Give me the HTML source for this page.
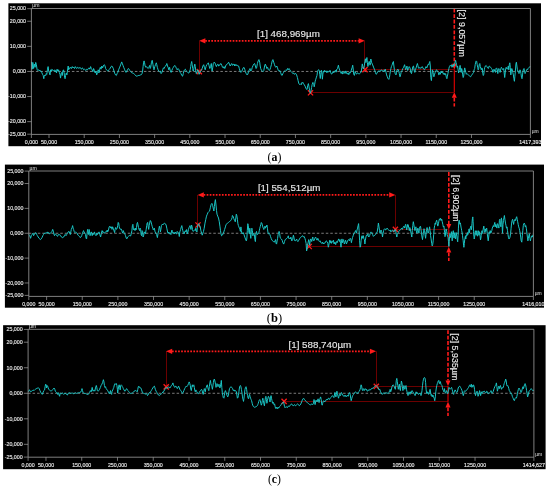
<!DOCTYPE html>
<html><head><meta charset="utf-8"><style>
html,body{margin:0;padding:0;background:#fff;}
svg{display:block;}
.tg{filter:grayscale(1);}
.t{font-family:"Liberation Sans",sans-serif;font-size:5.3px;fill:#e4e4e4;stroke:#e4e4e4;stroke-width:0.15px;}
.u{font-family:"Liberation Sans",sans-serif;font-size:4.6px;fill:#e4e4e4;}
.m{font-family:"Liberation Sans",sans-serif;font-size:10px;fill:#e8e8e8;stroke:#e8e8e8;stroke-width:0.12px;}
.cap{font-family:"Liberation Serif",serif;font-size:13.4px;fill:#000;}
</style></head><body>
<svg width="550" height="490" viewBox="0 0 550 490">
<rect width="550" height="490" fill="#fff"/>
<rect x="8.4" y="3.3" width="532.60" height="142.90" fill="#000"/>
<path d="M27.20 8.70H31.4" stroke="#a0a0a0" stroke-width="0.7"/>
<path d="M27.20 21.25H31.4" stroke="#a0a0a0" stroke-width="0.7"/>
<path d="M27.20 46.35H31.4" stroke="#a0a0a0" stroke-width="0.7"/>
<path d="M27.20 71.45H31.4" stroke="#a0a0a0" stroke-width="0.7"/>
<path d="M27.20 96.55H31.4" stroke="#a0a0a0" stroke-width="0.7"/>
<path d="M27.20 121.65H31.4" stroke="#a0a0a0" stroke-width="0.7"/>
<path d="M27.20 134.20H31.4" stroke="#a0a0a0" stroke-width="0.7"/>
<path d="M31.40 134.4v3.6" stroke="#a0a0a0" stroke-width="0.7"/>
<path d="M49.00 134.4v3.6" stroke="#a0a0a0" stroke-width="0.7"/>
<path d="M84.21 134.4v3.6" stroke="#a0a0a0" stroke-width="0.7"/>
<path d="M119.41 134.4v3.6" stroke="#a0a0a0" stroke-width="0.7"/>
<path d="M154.62 134.4v3.6" stroke="#a0a0a0" stroke-width="0.7"/>
<path d="M189.82 134.4v3.6" stroke="#a0a0a0" stroke-width="0.7"/>
<path d="M225.03 134.4v3.6" stroke="#a0a0a0" stroke-width="0.7"/>
<path d="M260.24 134.4v3.6" stroke="#a0a0a0" stroke-width="0.7"/>
<path d="M295.44 134.4v3.6" stroke="#a0a0a0" stroke-width="0.7"/>
<path d="M330.65 134.4v3.6" stroke="#a0a0a0" stroke-width="0.7"/>
<path d="M365.85 134.4v3.6" stroke="#a0a0a0" stroke-width="0.7"/>
<path d="M401.06 134.4v3.6" stroke="#a0a0a0" stroke-width="0.7"/>
<path d="M436.26 134.4v3.6" stroke="#a0a0a0" stroke-width="0.7"/>
<path d="M471.47 134.4v3.6" stroke="#a0a0a0" stroke-width="0.7"/>
<path d="M530.40 134.4v3.6" stroke="#a0a0a0" stroke-width="0.7"/>
<path d="M31.4 71.45H530.4" stroke="#b0b0b0" stroke-width="0.7" stroke-dasharray="2.5 2"/>
<path d="M199.50 40.80V71.60" stroke="#6c0000" stroke-width="1"/>
<path d="M364.50 40.80V69.60" stroke="#6c0000" stroke-width="1"/>
<path d="M365.00 69.50H454.30" stroke="#6c0000" stroke-width="1"/>
<path d="M310.50 92.50H454.30" stroke="#6c0000" stroke-width="1"/>
<path d="M205.20 40.80H358.80" stroke="#ff1a1a" stroke-width="1.8" stroke-dasharray="1.7 1.35"/>
<path d="M199.20 40.80 L205.40 38.20 L205.40 43.40Z" fill="#ff1a1a"/>
<path d="M364.80 40.80 L358.60 38.20 L358.60 43.40Z" fill="#ff1a1a"/>
<path d="M454.30 8.80V63.80" stroke="#ff1a1a" stroke-width="1.6" stroke-dasharray="3.8 1.6"/>
<path d="M454.30 69.40 L451.80 63.80 L456.80 63.80Z" fill="#ff1a1a"/>
<path d="M454.30 69.40V92.20" stroke="#e80000" stroke-width="1.1"/>
<path d="M454.30 92.20 L451.80 97.80 L456.80 97.80Z" fill="#ff1a1a"/>
<path d="M454.30 97.80V106.40" stroke="#ff1a1a" stroke-width="1.6" stroke-dasharray="3.8 1.6"/>
<path d="M196.70 69.00L201.90 74.20M196.70 74.20L201.90 69.00" stroke="#ff1a1a" stroke-width="1.3"/>
<path d="M362.40 67.00L367.60 72.20M362.40 72.20L367.60 67.00" stroke="#ff1a1a" stroke-width="1.3"/>
<path d="M307.90 90.20L313.10 95.40M307.90 95.40L313.10 90.20" stroke="#ff1a1a" stroke-width="1.3"/>
<path d="M31.5,61.9 32.2,69.2 32.8,62.4 33.6,68.5 34.3,64.1 35.1,67.3 35.7,62.4 36.4,64.7 37.1,69.8 37.9,70.5 38.9,69.8 39.9,71.1 40.8,70.8 41.7,72.4 42.5,74.3 43.2,75.5 43.8,78.7 44.2,76.2 45.0,74.9 45.8,75.5 46.3,73.6 46.8,74.3 47.4,69.8 48.1,66.6 48.7,71.1 49.4,73.0 50.0,74.9 50.6,69.8 51.2,71.1 51.9,69.2 52.6,69.8 53.3,71.1 53.9,70.5 54.6,69.8 55.2,71.7 55.8,70.5 56.5,73.0 57.1,69.2 57.8,71.1 58.5,69.8 59.3,72.4 60.0,74.3 60.5,78.1 61.2,73.6 61.8,72.4 62.3,75.5 62.8,71.1 63.5,69.8 64.1,72.4 64.6,77.5 65.1,78.7 65.6,75.5 66.3,73.0 66.9,74.9 67.4,71.1 68.2,66.0 68.7,69.8 69.2,67.9 70.0,68.5 70.7,67.3 71.5,68.5 72.3,66.6 73.0,67.9 73.8,67.3 74.5,68.5 75.3,66.6 76.1,67.9 76.8,68.5 77.6,67.3 78.4,67.9 79.1,68.5 79.9,67.3 80.7,68.5 81.4,69.2 82.2,67.9 83.0,68.5 83.7,69.8 84.5,69.2 85.2,69.8 86.0,70.5 86.8,69.2 87.5,69.8 88.3,68.5 89.1,67.9 89.8,69.2 90.6,66.6 91.3,68.5 92.1,69.8 92.9,71.7 93.6,68.5 94.4,70.5 95.2,73.0 95.9,71.1 96.7,74.9 97.5,72.4 98.2,69.8 99.0,71.7 98.8,73.0 99.5,69.8 100.3,67.3 101.0,69.2 101.8,66.0 102.6,67.9 103.3,66.0 104.1,64.7 104.9,65.4 105.6,68.5 106.4,69.8 107.2,70.5 107.9,71.1 108.7,69.8 109.5,69.2 110.2,68.3 111.0,66.6 111.8,66.0 112.5,67.0 113.3,68.5 114.0,71.1 114.8,73.6 115.6,74.9 116.3,75.5 117.1,73.6 117.8,72.4 118.6,69.8 119.4,67.9 120.2,66.0 120.9,64.1 121.7,61.9 122.2,63.2 123.0,65.4 123.7,67.3 124.5,69.2 125.2,71.1 126.0,72.4 126.8,71.1 127.5,69.8 128.3,68.5 129.1,69.2 129.8,70.5 130.6,71.7 131.3,72.4 132.1,73.0 132.9,73.0 133.6,73.4 134.4,74.3 135.2,74.9 135.9,75.9 136.7,76.2 137.5,75.9 138.2,75.5 139.0,75.5 139.8,75.3 140.5,74.9 141.3,74.7 142.0,73.6 142.6,71.1 143.1,66.6 143.6,62.2 144.1,60.9 144.6,62.8 145.1,66.0 145.9,67.3 146.6,66.6 147.4,67.9 148.2,68.5 148.9,67.3 149.7,65.4 150.2,68.5 150.7,67.3 151.5,62.2 152.2,60.3 153.0,64.7 153.5,68.5 154.0,69.8 154.8,66.6 155.5,64.7 156.3,62.8 156.8,64.7 157.3,67.3 158.1,69.8 158.8,71.1 159.6,71.7 160.4,71.1 161.1,73.6 161.9,72.4 162.7,69.8 163.4,67.9 164.2,68.5 164.9,66.6 165.7,66.0 166.7,64.1 166.8,63.5 167.5,66.0 168.3,67.9 168.8,69.8 169.6,67.3 170.3,71.1 171.1,72.4 171.8,70.5 172.6,68.5 173.4,67.3 174.2,66.0 174.9,65.4 175.7,66.6 176.4,68.5 177.2,69.8 178.0,68.5 178.7,69.2 179.5,71.1 180.2,72.4 181.0,73.6 181.8,75.5 182.6,76.2 183.3,73.6 183.8,71.1 184.6,69.8 185.3,69.2 186.1,70.5 186.9,71.7 187.6,72.4 188.4,73.0 188.9,73.0 189.7,71.1 190.2,69.8 190.7,66.6 191.2,63.5 191.7,61.5 192.2,64.7 192.7,68.5 193.2,71.1 193.8,69.2 194.3,66.0 194.8,64.1 195.3,66.6 195.8,71.1 196.3,73.6 197.1,71.7 197.8,69.8 198.6,72.4 199.1,74.3 199.9,72.4 200.6,71.1 201.4,70.5 202.2,68.5 202.9,66.0 203.7,64.7 204.4,67.3 205.2,69.8 206.0,66.6 206.7,64.7 207.5,64.1 208.3,62.8 209.0,65.4 209.8,68.5 210.6,66.6 211.3,63.5 212.1,71.1 212.8,67.3 213.3,63.5 214.1,62.2 214.9,62.8 215.6,64.7 216.4,66.6 217.2,64.7 217.9,64.1 218.7,66.0 219.5,65.4 220.2,64.1 221.0,63.5 221.8,65.4 222.5,67.3 223.3,67.9 224.0,66.6 224.8,68.5 225.6,66.0 226.3,64.7 227.1,64.1 227.9,63.5 228.6,62.2 229.4,64.1 230.2,66.0 230.9,64.7 231.7,63.5 232.4,65.4 233.2,64.1 234.0,64.7 234.7,66.0 234.8,64.1 235.5,65.4 236.3,64.7 237.1,66.0 237.8,65.4 238.6,66.0 239.3,68.5 240.1,71.1 240.9,72.4 241.6,71.7 242.4,69.8 243.2,67.9 243.9,67.3 244.7,69.2 245.4,71.7 246.2,73.6 247.0,74.9 247.8,74.3 248.5,71.7 249.3,69.8 250.0,68.5 250.8,71.1 251.6,69.8 252.3,67.3 253.1,65.4 253.8,64.1 254.6,63.5 255.4,66.0 256.1,68.5 256.6,67.9 257.4,63.5 258.2,60.9 258.9,59.6 259.7,62.2 260.2,66.0 260.7,68.5 261.5,70.5 262.3,71.1 263.0,71.7 263.8,70.5 264.6,66.0 265.3,64.1 266.1,66.0 266.8,68.5 267.6,67.3 268.4,69.8 269.1,70.5 269.9,69.8 270.7,67.3 271.4,64.7 272.2,60.9 272.9,59.6 273.7,62.2 274.5,64.7 275.2,66.6 276.0,67.3 276.8,66.0 277.5,67.9 278.3,70.5 279.1,71.1 279.8,70.5 280.6,72.4 281.4,74.9 282.1,75.5 282.9,73.6 283.6,72.4 284.4,71.1 285.2,70.5 285.9,69.8 286.7,70.5 287.5,68.5 288.2,69.8 289.0,68.5 289.8,69.8 290.5,71.1 291.3,71.7 292.0,72.4 292.8,73.6 293.6,73.0 294.3,74.3 295.1,73.6 295.9,73.6 296.6,74.9 297.4,77.5 298.1,80.6 298.9,83.8 299.7,84.5 300.4,83.8 301.2,84.8 302.0,82.5 302.7,83.2 302.8,82.4 303.5,83.6 304.3,84.9 305.1,86.2 305.8,88.1 306.6,89.4 307.1,89.4 307.7,85.5 308.4,83.6 309.0,86.8 309.6,90.6 310.3,93.2 310.9,91.3 311.6,87.5 312.2,84.3 312.9,82.4 313.7,83.6 314.2,86.8 314.7,84.3 315.2,81.1 315.8,79.2 316.2,77.9 317.0,75.4 317.5,71.5 318.0,70.3 318.6,69.6 319.3,70.9 319.8,74.7 320.3,78.5 320.8,74.1 321.4,70.3 321.9,72.8 322.4,79.2 322.9,74.1 323.4,70.9 323.9,72.2 324.6,70.3 325.4,71.5 326.2,70.9 326.9,72.8 327.7,70.9 328.5,72.2 329.2,71.5 330.0,70.3 330.8,72.8 331.5,74.1 332.3,73.5 333.1,71.5 333.8,72.8 334.6,71.5 335.4,70.3 336.1,72.2 336.9,69.0 337.6,68.4 338.4,65.2 338.9,67.7 339.7,70.3 340.4,71.5 341.2,73.5 342.0,71.5 342.7,74.1 343.5,72.8 344.3,71.5 345.0,73.5 345.8,70.9 346.6,73.5 347.3,74.1 348.1,72.8 348.8,74.7 349.6,72.2 350.4,72.8 351.1,70.9 351.6,69.0 352.1,67.7 352.7,65.2 353.2,69.0 353.7,74.1 354.4,75.4 355.2,71.5 356.0,73.5 356.7,74.1 357.5,72.8 358.3,73.5 359.0,74.1 359.8,73.5 360.6,72.8 361.3,71.5 361.8,67.7 362.3,63.9 362.8,66.5 363.4,69.0 363.9,67.7 364.4,65.2 364.9,61.4 365.4,58.8 365.9,62.6 366.4,60.1 366.9,57.5 367.4,62.6 367.9,66.5 368.4,63.9 369.2,61.4 370.0,65.2 370.7,62.6 370.8,59.0 371.5,62.2 372.3,64.1 373.1,66.0 373.8,67.9 374.6,69.8 375.4,72.4 376.1,74.3 376.9,73.6 377.6,71.7 378.4,71.1 379.2,71.7 379.9,70.5 380.7,71.1 381.4,69.8 382.2,70.5 383.0,71.1 383.8,71.7 384.2,69.8 384.8,71.1 385.3,69.2 386.0,72.4 386.6,74.9 387.3,76.8 388.1,78.7 388.8,79.4 389.4,77.5 389.9,74.3 390.4,71.1 390.9,68.5 391.4,66.6 391.9,65.4 392.4,64.1 392.9,62.2 393.4,61.5 393.9,66.0 394.4,69.8 395.2,73.6 396.0,74.9 396.5,72.4 397.2,69.8 398.0,69.2 398.8,71.1 399.3,73.6 400.0,76.8 400.6,74.9 401.1,72.4 401.6,71.1 402.1,70.5 402.8,68.5 403.6,67.3 404.1,66.0 404.6,64.7 405.1,67.3 405.6,69.8 406.4,68.5 406.9,66.0 407.7,70.5 408.4,68.5 409.2,66.6 410.0,67.9 410.5,69.8 411.0,73.0 411.5,73.6 412.0,71.1 412.8,66.6 413.5,66.0 414.3,71.1 414.8,72.4 415.3,69.8 416.1,67.9 416.6,66.0 417.4,63.5 417.9,65.4 418.4,67.9 419.1,68.5 419.9,67.3 420.7,68.5 421.4,67.9 422.2,66.6 422.9,67.9 423.7,69.2 424.5,69.8 425.2,68.5 426.0,66.6 426.8,67.9 427.5,66.0 428.3,64.1 428.8,64.7 429.3,62.8 429.8,61.5 430.3,66.0 430.8,77.5 431.4,80.6 431.9,74.9 432.4,69.8 432.9,71.7 433.4,74.3 433.9,76.8 434.4,74.9 435.2,72.4 435.9,70.5 436.7,69.8 437.5,71.7 438.2,72.4 439.0,74.9 438.8,74.9 439.5,72.4 440.3,74.3 441.1,71.1 441.8,73.0 442.6,71.7 443.4,74.3 444.1,73.0 444.9,74.9 445.6,73.6 446.4,77.5 446.9,78.7 447.4,76.2 447.9,73.6 448.4,71.1 448.9,68.5 449.4,66.6 450.0,65.4 450.7,66.0 451.5,64.7 452.0,67.3 452.5,65.4 453.0,66.6 453.5,64.1 454.0,66.0 454.6,64.7 455.1,62.2 455.6,60.3 456.1,62.8 456.6,64.7 457.1,67.3 457.6,66.0 458.1,69.8 458.6,73.0 459.1,70.5 459.6,67.9 460.1,65.4 460.6,69.8 461.2,72.4 461.7,68.5 462.2,71.1 462.7,74.9 463.2,77.5 463.7,76.2 464.2,71.1 464.7,67.9 465.2,69.8 465.8,72.4 466.3,74.3 466.8,73.6 467.5,74.3 468.3,74.9 469.1,75.5 469.8,76.2 470.6,76.8 471.4,75.5 472.1,74.3 472.9,73.6 473.6,72.4 474.1,69.8 474.7,68.5 475.2,64.7 475.7,62.2 476.2,60.9 476.7,61.5 477.2,64.7 477.7,67.3 478.2,69.8 478.7,68.5 479.2,64.7 479.8,63.5 480.3,66.6 480.8,68.5 481.3,69.8 481.8,67.9 482.3,68.5 482.8,73.6 483.3,75.5 483.8,74.3 484.3,69.8 484.8,67.3 485.4,66.0 486.1,65.4 486.9,66.6 487.6,67.9 488.4,68.5 489.2,66.0 489.9,66.6 490.7,67.3 491.5,68.5 492.2,69.8 493.0,72.4 493.5,70.5 494.0,69.2 494.8,71.1 495.5,72.4 496.0,68.5 496.6,67.9 497.3,69.8 497.8,73.6 498.3,69.8 498.8,68.5 499.6,70.5 500.1,72.4 500.9,68.5 501.4,67.3 502.1,68.5 502.9,69.8 503.7,68.5 504.2,73.0 504.7,77.5 505.2,73.0 505.7,68.5 506.2,67.3 507.0,69.2 507.8,68.5 508.3,66.0 508.8,69.8 509.3,64.7 509.8,62.8 510.3,67.3 510.8,74.9 511.3,71.1 511.8,68.5 512.3,69.8 512.8,72.4 513.4,74.9 513.9,78.7 514.4,81.3 514.9,76.2 515.4,71.1 515.9,64.1 516.4,62.2 516.9,66.0 517.4,69.8 517.9,71.1 518.4,72.4 519.0,73.6 519.5,71.7 520.0,69.8 520.5,71.1 521.0,73.6 521.5,77.5 522.0,78.7 522.5,74.9 523.0,71.1 523.5,69.2 524.0,68.5 524.5,71.1 525.1,73.6 525.6,72.4 526.1,71.1 526.6,69.8 527.1,69.2 527.6,69.8 528.1,68.5 528.6,67.9 529.1,67.3 530.1,66.6 530.4,66.6" fill="none" stroke="#1ac4c4" stroke-width="1.0" stroke-linejoin="round"/>
<path d="M31.4 134.4V8.5H530.4V134.4Z" fill="none" stroke="#a0a0a0" stroke-width="0.8"/>
<rect x="4.9" y="164.6" width="539.10" height="143.10" fill="#000"/>
<path d="M24.60 171.10H28.8" stroke="#a0a0a0" stroke-width="0.7"/>
<path d="M24.60 183.53H28.8" stroke="#a0a0a0" stroke-width="0.7"/>
<path d="M24.60 208.39H28.8" stroke="#a0a0a0" stroke-width="0.7"/>
<path d="M24.60 233.25H28.8" stroke="#a0a0a0" stroke-width="0.7"/>
<path d="M24.60 258.11H28.8" stroke="#a0a0a0" stroke-width="0.7"/>
<path d="M24.60 282.97H28.8" stroke="#a0a0a0" stroke-width="0.7"/>
<path d="M24.60 295.40H28.8" stroke="#a0a0a0" stroke-width="0.7"/>
<path d="M28.80 296.4v3.6" stroke="#a0a0a0" stroke-width="0.7"/>
<path d="M46.62 296.4v3.6" stroke="#a0a0a0" stroke-width="0.7"/>
<path d="M82.25 296.4v3.6" stroke="#a0a0a0" stroke-width="0.7"/>
<path d="M117.89 296.4v3.6" stroke="#a0a0a0" stroke-width="0.7"/>
<path d="M153.52 296.4v3.6" stroke="#a0a0a0" stroke-width="0.7"/>
<path d="M189.16 296.4v3.6" stroke="#a0a0a0" stroke-width="0.7"/>
<path d="M224.79 296.4v3.6" stroke="#a0a0a0" stroke-width="0.7"/>
<path d="M260.43 296.4v3.6" stroke="#a0a0a0" stroke-width="0.7"/>
<path d="M296.07 296.4v3.6" stroke="#a0a0a0" stroke-width="0.7"/>
<path d="M331.70 296.4v3.6" stroke="#a0a0a0" stroke-width="0.7"/>
<path d="M367.34 296.4v3.6" stroke="#a0a0a0" stroke-width="0.7"/>
<path d="M402.97 296.4v3.6" stroke="#a0a0a0" stroke-width="0.7"/>
<path d="M438.61 296.4v3.6" stroke="#a0a0a0" stroke-width="0.7"/>
<path d="M474.24 296.4v3.6" stroke="#a0a0a0" stroke-width="0.7"/>
<path d="M533.40 296.4v3.6" stroke="#a0a0a0" stroke-width="0.7"/>
<path d="M28.8 233.25H533.4" stroke="#b0b0b0" stroke-width="0.7" stroke-dasharray="2.5 2"/>
<path d="M197.50 194.90V225.00" stroke="#6c0000" stroke-width="1"/>
<path d="M395.50 194.90V229.40" stroke="#6c0000" stroke-width="1"/>
<path d="M395.40 229.50H448.80" stroke="#6c0000" stroke-width="1"/>
<path d="M309.20 246.50H448.80" stroke="#6c0000" stroke-width="1"/>
<path d="M203.60 194.90H389.40" stroke="#ff1a1a" stroke-width="1.8" stroke-dasharray="1.7 1.35"/>
<path d="M197.60 194.90 L203.80 192.30 L203.80 197.50Z" fill="#ff1a1a"/>
<path d="M395.40 194.90 L389.20 192.30 L389.20 197.50Z" fill="#ff1a1a"/>
<path d="M448.80 172.10V223.90" stroke="#ff1a1a" stroke-width="1.6" stroke-dasharray="3.8 1.6"/>
<path d="M448.80 229.50 L446.30 223.90 L451.30 223.90Z" fill="#ff1a1a"/>
<path d="M448.80 229.50V246.80" stroke="#e80000" stroke-width="1.1"/>
<path d="M448.80 246.80 L446.30 252.40 L451.30 252.40Z" fill="#ff1a1a"/>
<path d="M448.80 252.40V261.00" stroke="#ff1a1a" stroke-width="1.6" stroke-dasharray="3.8 1.6"/>
<path d="M195.40 222.40L200.60 227.60M195.40 227.60L200.60 222.40" stroke="#ff1a1a" stroke-width="1.3"/>
<path d="M392.80 226.80L398.00 232.00M392.80 232.00L398.00 226.80" stroke="#ff1a1a" stroke-width="1.3"/>
<path d="M306.60 243.90L311.80 249.10M306.60 249.10L311.80 243.90" stroke="#ff1a1a" stroke-width="1.3"/>
<path d="M29.0,234.5 29.8,235.7 30.6,238.3 31.3,235.7 32.1,234.5 32.9,233.2 33.6,235.7 34.4,234.5 35.1,233.2 35.9,232.6 36.7,234.5 37.4,235.7 38.2,237.0 39.0,238.3 39.7,238.9 40.5,239.6 41.2,238.9 42.0,237.6 42.8,235.7 43.5,234.5 44.3,233.2 45.1,233.8 45.8,232.6 46.6,233.2 47.4,231.9 48.1,233.2 48.9,232.6 49.6,233.8 50.4,233.2 51.2,232.6 52.0,231.3 52.7,229.4 53.5,231.9 54.0,234.5 54.5,235.7 55.3,233.8 56.0,234.5 56.8,235.7 57.5,236.4 58.3,234.5 59.1,235.1 59.8,234.5 60.6,235.7 61.4,237.0 62.1,237.6 62.9,237.6 63.7,237.0 64.4,235.7 65.2,234.5 66.0,235.7 66.7,234.5 67.5,233.2 68.2,231.9 69.0,231.3 69.8,233.2 70.3,234.5 70.8,231.9 71.3,229.4 72.1,227.5 72.6,225.6 73.1,228.1 73.6,229.4 74.1,231.3 74.9,232.6 75.6,231.9 76.4,232.6 77.2,233.2 77.9,235.1 78.7,235.7 79.4,236.4 80.2,237.6 81.0,237.0 81.7,235.7 82.5,233.2 83.0,231.9 83.5,230.6 84.0,231.9 84.8,233.2 85.5,234.5 86.1,238.3 86.6,238.9 87.1,233.2 87.6,229.4 88.1,231.9 88.6,234.5 89.1,229.4 89.6,231.9 90.1,235.7 90.6,233.2 91.4,231.9 92.2,235.7 92.9,233.2 93.7,234.5 94.5,231.9 95.2,234.5 96.0,235.7 96.8,233.2 97.5,234.5 98.3,232.6 99.1,231.9 99.8,234.5 100.6,237.0 101.4,233.2 102.1,230.6 102.9,232.6 103.7,231.9 104.4,233.2 105.2,232.6 106.0,231.3 106.7,231.9 107.2,230.0 107.7,231.9 108.5,230.0 109.2,226.8 110.0,226.2 110.8,228.1 111.5,226.8 112.0,229.4 112.6,226.8 113.1,228.1 113.8,230.0 114.6,232.6 115.1,229.4 115.6,227.5 116.4,229.4 117.2,228.1 117.7,225.6 118.2,222.4 118.7,223.0 119.2,226.8 119.7,228.7 120.2,229.4 121.0,228.7 121.7,230.0 122.2,231.9 122.8,233.2 123.3,230.6 124.0,232.6 124.8,233.8 125.5,235.7 126.3,238.3 126.8,238.9 127.6,237.0 128.3,236.4 129.1,235.7 129.9,235.5 130.6,236.0 131.4,233.2 131.9,230.6 132.4,225.6 132.9,224.3 133.4,229.4 133.9,230.0 134.5,228.7 135.0,230.6 135.5,228.1 136.0,230.0 136.5,227.5 137.0,223.6 137.5,222.4 138.0,224.9 138.5,227.5 139.0,229.4 139.6,230.6 140.1,228.1 140.6,229.4 141.1,234.5 141.6,235.7 142.1,230.6 142.6,231.3 143.1,237.0 143.6,235.7 144.1,233.2 144.6,231.9 145.4,233.8 146.2,229.4 146.7,225.6 147.2,223.0 147.7,222.4 148.2,226.8 148.7,229.4 149.2,225.6 149.7,223.0 150.2,220.5 150.8,221.1 151.3,223.0 151.8,224.9 152.3,226.8 152.8,228.1 153.3,230.0 153.8,229.4 154.3,228.1 155.1,231.9 155.8,233.2 156.6,234.5 157.4,237.6 158.1,233.2 158.6,230.6 159.4,226.2 159.9,228.1 160.4,231.9 160.9,229.4 161.4,225.6 162.2,224.3 163.0,224.9 163.7,223.6 163.8,223.7 164.5,223.3 165.3,223.7 166.1,225.0 166.8,228.2 167.6,232.0 168.1,233.3 168.8,232.0 169.6,233.9 170.4,233.3 170.9,234.6 171.4,232.0 171.9,230.1 172.4,231.4 172.9,233.3 173.7,232.6 174.4,233.9 175.2,232.0 175.7,233.3 176.5,233.9 177.2,231.4 178.0,232.6 178.8,233.3 179.3,236.5 179.8,232.0 180.6,229.5 181.3,226.9 181.8,225.6 182.3,228.2 182.8,230.7 183.4,232.6 184.1,233.9 184.9,231.4 185.4,230.7 185.9,232.0 186.7,229.5 187.2,233.9 187.9,232.0 188.5,229.5 189.0,227.6 189.5,226.9 190.0,225.6 190.5,228.2 191.0,229.5 191.5,225.0 192.0,226.3 192.5,229.5 193.0,231.4 193.8,230.7 194.6,230.1 195.3,230.7 195.8,228.2 196.3,230.7 196.9,232.0 197.4,226.9 197.9,225.0 198.6,223.7 199.4,225.0 200.2,226.9 200.9,230.7 201.7,233.3 202.2,235.2 202.7,233.9 203.5,231.4 204.2,228.2 205.0,223.1 205.8,219.3 206.5,216.1 207.3,214.2 208.1,212.3 208.8,211.6 209.6,211.0 210.3,207.8 211.1,204.6 211.9,203.4 212.6,205.3 213.4,209.1 213.9,211.0 214.4,206.6 214.9,202.1 215.4,199.6 215.9,204.0 216.5,210.4 217.0,214.2 217.7,216.1 218.5,218.0 219.3,221.8 220.0,226.9 220.5,230.7 221.0,233.9 221.6,235.8 222.3,235.2 223.1,233.9 223.8,232.0 224.6,229.5 225.4,226.9 226.1,224.4 226.9,223.7 227.7,223.1 228.4,222.5 229.2,221.8 229.9,221.2 230.7,220.6 231.5,219.3 232.2,217.4 232.3,215.5 233.0,216.1 233.8,218.6 234.6,220.6 235.3,221.8 235.8,218.0 236.3,214.2 236.8,215.5 237.4,219.3 237.9,223.7 238.4,225.6 238.9,226.9 239.4,228.2 239.9,229.5 240.4,231.4 240.9,226.9 241.4,230.7 241.9,233.3 242.4,233.9 243.2,232.6 244.0,234.6 244.8,237.1 245.5,239.0 246.3,240.9 246.8,239.0 247.3,230.7 247.8,223.7 248.3,225.6 248.8,232.0 249.3,233.9 249.8,228.2 250.3,234.6 250.8,238.4 251.4,229.5 251.9,228.2 252.4,230.7 252.9,235.8 253.4,233.3 253.9,233.9 254.4,234.6 254.9,239.6 255.4,241.6 255.9,233.9 256.5,231.4 257.2,234.6 258.0,233.9 258.8,232.6 259.3,230.7 259.8,228.2 260.3,226.3 260.8,224.4 261.3,222.5 261.8,223.1 262.3,225.0 262.8,226.9 263.3,228.2 263.8,229.5 264.4,227.6 264.9,226.3 265.4,228.2 265.9,226.3 266.4,226.9 266.9,225.0 267.4,228.2 267.9,232.0 268.4,233.9 269.2,233.3 269.9,234.6 270.5,236.5 271.2,238.4 272.0,240.3 272.8,240.9 273.5,241.6 274.3,242.2 275.0,240.9 275.6,239.6 276.1,243.5 276.6,244.1 277.1,240.9 277.6,238.4 278.1,234.6 278.6,233.3 279.1,231.4 279.6,233.3 280.1,237.1 280.6,238.4 281.4,239.0 282.2,240.3 282.9,242.8 283.7,244.1 284.5,241.6 285.2,239.6 286.0,239.0 286.8,238.4 287.5,237.7 288.3,235.8 288.8,238.4 289.3,239.0 289.8,238.4 290.3,239.0 290.8,237.1 291.3,239.0 291.8,240.9 292.6,239.6 293.4,235.2 293.9,237.1 294.4,240.3 295.1,240.9 295.9,240.3 296.7,239.0 297.2,240.9 297.9,241.6 298.7,240.3 299.5,239.0 299.5,238.9 300.3,237.6 301.0,237.0 301.8,236.4 302.6,235.7 303.3,237.0 304.1,236.4 304.9,238.3 305.6,240.8 306.1,243.4 306.6,251.0 307.1,248.5 307.6,245.3 308.2,242.1 308.7,239.6 309.2,242.1 309.7,245.3 310.2,240.8 310.7,238.9 311.2,239.6 311.7,241.5 312.2,238.9 312.8,237.0 313.2,240.2 314.0,240.8 314.8,238.3 315.6,237.0 316.3,238.9 317.1,240.2 317.8,238.3 318.6,240.2 319.4,241.5 320.1,240.8 320.9,242.7 321.6,243.4 322.4,242.1 323.2,244.0 323.9,242.7 324.7,243.4 325.5,242.1 326.2,240.8 327.0,241.5 327.8,243.4 328.3,247.2 328.8,245.3 329.3,242.1 329.8,240.2 330.3,242.7 330.8,240.8 331.3,243.4 331.8,241.5 332.6,242.1 333.4,240.2 334.1,244.0 334.9,242.1 335.7,244.6 336.4,241.5 337.2,242.7 337.9,240.8 338.7,238.9 339.5,241.5 340.0,239.6 340.5,243.4 341.0,247.2 341.5,240.8 342.0,238.9 342.5,242.7 343.0,240.8 343.6,239.6 344.3,244.0 344.8,242.7 345.6,240.2 346.4,244.0 347.1,242.1 347.9,240.2 348.6,239.6 349.4,240.8 350.2,238.3 350.9,239.6 351.4,242.7 351.9,240.2 352.5,237.6 353.2,235.7 354.0,233.2 354.8,232.6 355.5,230.6 356.0,231.9 356.5,233.2 357.0,230.0 357.6,228.1 358.1,225.6 358.6,223.6 359.1,230.6 359.6,240.8 360.1,247.2 360.6,245.9 361.1,240.8 361.6,237.0 362.1,235.7 362.6,238.3 363.4,235.7 363.9,238.9 364.4,239.6 364.9,244.0 365.4,240.2 365.9,237.0 366.5,235.1 367.2,235.7 368.0,233.8 368.0,235.1 368.8,237.0 369.6,235.7 370.3,233.2 371.1,231.9 371.8,232.6 372.6,234.5 373.4,236.4 374.1,235.7 374.9,235.1 375.6,234.5 376.4,233.2 377.2,231.9 377.9,227.5 378.4,223.0 379.0,226.8 379.5,230.6 380.0,233.2 380.5,231.9 381.0,230.0 381.5,231.3 382.0,233.2 382.5,237.0 383.0,233.8 383.6,230.6 384.1,229.4 384.8,228.7 385.6,230.0 386.4,229.4 387.1,228.1 387.9,229.4 388.6,230.0 389.4,230.6 390.2,230.0 390.9,231.9 391.7,230.6 392.5,230.0 393.2,231.3 394.0,231.9 394.8,230.0 395.3,229.4 395.8,231.3 396.3,234.5 396.8,237.0 397.3,234.5 397.8,233.2 398.3,232.6 398.8,231.3 399.3,230.6 400.1,230.0 400.9,229.4 401.6,228.1 402.4,229.4 403.1,227.5 403.9,226.2 404.7,228.1 405.2,225.6 405.7,224.3 406.2,226.8 406.7,230.0 407.2,227.5 407.7,224.3 408.2,224.9 408.8,228.1 409.3,230.6 409.8,227.5 410.3,228.7 410.8,231.9 411.3,234.5 411.8,237.0 412.3,230.6 412.8,225.6 413.3,221.7 413.8,224.3 414.4,228.1 414.9,230.6 415.4,228.7 415.9,226.8 416.4,230.6 416.9,233.2 417.4,230.0 417.9,228.1 418.4,230.6 418.9,233.2 419.4,228.7 419.9,226.8 420.5,226.2 421.0,229.4 421.5,233.2 422.0,237.0 422.5,239.6 423.0,235.7 423.5,231.9 424.0,228.7 424.5,230.6 425.0,234.5 425.6,238.3 426.1,233.2 426.6,229.4 427.1,227.5 427.6,230.6 428.1,233.2 428.6,231.9 429.1,229.4 429.6,226.8 430.1,230.6 430.6,235.7 431.1,238.9 431.7,243.4 432.2,245.9 432.7,244.6 433.2,240.8 433.7,234.5 434.2,228.1 434.7,225.6 435.2,223.0 435.7,224.3 435.8,222.4 436.0,222.0 436.7,220.2 437.3,223.4 437.8,226.1 438.4,223.8 438.9,221.1 439.5,218.8 440.0,219.7 440.6,218.3 441.1,220.6 441.7,219.2 442.2,221.5 442.8,224.3 443.4,227.1 443.9,226.1 444.3,229.4 444.6,232.6 445.0,236.7 445.4,235.3 445.7,231.7 446.1,228.9 446.7,231.2 447.0,234.4 447.6,236.2 448.1,237.6 448.5,241.8 448.9,246.4 449.2,241.8 449.6,236.2 450.0,233.5 450.3,235.3 450.7,237.6 451.1,234.4 451.4,231.7 451.8,236.2 452.2,240.8 452.5,237.2 452.9,232.6 453.3,230.7 453.6,234.4 454.0,238.1 454.4,235.3 454.8,232.6 455.1,237.2 455.5,239.0 455.9,234.4 456.2,232.6 456.8,236.2 457.3,239.9 457.7,241.8 458.1,235.3 458.4,228.9 458.8,221.5 459.2,220.2 459.5,222.0 459.9,224.3 460.3,222.9 460.6,224.3 461.0,227.1 461.4,228.9 461.7,230.7 462.1,232.6 462.5,235.3 462.8,238.1 463.2,240.8 463.6,245.4 463.9,247.3 464.3,243.6 464.7,239.9 465.0,238.1 465.4,236.2 465.8,239.0 466.1,235.3 466.5,236.2 466.9,234.4 467.2,235.3 467.6,232.6 468.0,234.4 468.4,231.7 468.7,230.7 469.1,228.9 469.5,232.6 469.8,229.8 470.2,228.0 470.6,227.1 470.9,226.1 471.3,229.8 471.7,227.1 472.0,223.4 472.4,218.8 472.8,216.9 473.1,221.5 473.5,231.7 473.9,236.2 474.2,239.0 474.6,237.2 475.0,233.5 475.3,230.7 475.7,232.6 476.1,235.3 476.4,232.6 476.8,230.7 477.2,234.4 477.5,236.2 477.9,233.5 478.3,230.7 478.6,232.6 479.0,235.3 479.4,231.7 479.8,233.5 480.1,236.2 480.5,239.9 480.9,238.1 481.2,235.3 481.6,232.6 482.0,230.7 482.3,233.5 482.7,232.6 483.1,229.8 483.4,228.0 483.8,226.1 484.2,228.9 484.5,230.7 484.9,232.6 485.3,230.7 485.6,228.9 485.7,231.3 486.2,229.4 486.7,228.1 487.2,233.2 487.7,237.0 488.2,240.8 488.7,237.0 489.2,231.9 489.7,233.2 490.2,230.6 490.8,233.2 491.3,231.9 491.8,230.6 492.3,228.1 492.8,226.8 493.3,225.6 493.8,226.8 494.3,224.3 494.8,222.4 495.3,226.8 495.8,224.3 496.4,225.6 496.9,228.1 497.4,223.6 497.9,224.3 498.4,226.2 498.9,228.1 499.4,220.5 499.9,219.2 500.4,224.3 500.9,226.8 501.4,217.9 501.9,220.5 502.5,233.2 503.0,224.3 503.5,220.5 504.0,217.3 504.4,215.5 504.9,219.3 505.5,223.1 506.0,225.6 506.5,228.2 507.0,226.9 507.5,230.7 508.0,234.6 508.5,237.7 509.0,239.0 509.5,238.4 510.0,237.1 510.6,233.3 511.1,228.2 511.6,223.1 512.1,220.6 512.6,219.3 513.1,221.8 513.6,224.4 514.1,221.2 514.6,219.9 515.1,219.3 515.6,220.6 516.1,218.0 516.7,216.7 517.2,219.3 517.7,221.8 518.2,224.4 518.7,226.9 519.2,228.2 519.7,230.7 520.2,233.3 520.7,237.1 521.2,240.9 521.8,242.2 522.3,235.8 522.8,230.7 523.3,225.6 523.8,223.7 524.3,223.1 524.8,224.4 525.3,226.9 525.8,225.6 526.3,228.2 526.8,232.0 527.4,237.1 527.9,240.9 528.4,238.4 528.9,235.2 529.4,233.9 529.9,238.4 530.4,240.9 530.9,238.4 531.4,237.1 531.9,235.8 532.4,237.1 533.1,234.6" fill="none" stroke="#1ac4c4" stroke-width="1.0" stroke-linejoin="round"/>
<path d="M28.8 296.4V171.0H533.4V296.4Z" fill="none" stroke="#a0a0a0" stroke-width="0.8"/>
<rect x="3.1" y="325.2" width="542.50" height="144.00" fill="#000"/>
<path d="M23.90 329.45H28.1" stroke="#a0a0a0" stroke-width="0.7"/>
<path d="M23.90 342.21H28.1" stroke="#a0a0a0" stroke-width="0.7"/>
<path d="M23.90 367.75H28.1" stroke="#a0a0a0" stroke-width="0.7"/>
<path d="M23.90 393.27H28.1" stroke="#a0a0a0" stroke-width="0.7"/>
<path d="M23.90 418.81H28.1" stroke="#a0a0a0" stroke-width="0.7"/>
<path d="M23.90 444.34H28.1" stroke="#a0a0a0" stroke-width="0.7"/>
<path d="M23.90 457.10H28.1" stroke="#a0a0a0" stroke-width="0.7"/>
<path d="M28.10 457.2v3.6" stroke="#a0a0a0" stroke-width="0.7"/>
<path d="M45.98 457.2v3.6" stroke="#a0a0a0" stroke-width="0.7"/>
<path d="M81.73 457.2v3.6" stroke="#a0a0a0" stroke-width="0.7"/>
<path d="M117.49 457.2v3.6" stroke="#a0a0a0" stroke-width="0.7"/>
<path d="M153.24 457.2v3.6" stroke="#a0a0a0" stroke-width="0.7"/>
<path d="M189.00 457.2v3.6" stroke="#a0a0a0" stroke-width="0.7"/>
<path d="M224.75 457.2v3.6" stroke="#a0a0a0" stroke-width="0.7"/>
<path d="M260.51 457.2v3.6" stroke="#a0a0a0" stroke-width="0.7"/>
<path d="M296.26 457.2v3.6" stroke="#a0a0a0" stroke-width="0.7"/>
<path d="M332.02 457.2v3.6" stroke="#a0a0a0" stroke-width="0.7"/>
<path d="M367.77 457.2v3.6" stroke="#a0a0a0" stroke-width="0.7"/>
<path d="M403.53 457.2v3.6" stroke="#a0a0a0" stroke-width="0.7"/>
<path d="M439.28 457.2v3.6" stroke="#a0a0a0" stroke-width="0.7"/>
<path d="M475.04 457.2v3.6" stroke="#a0a0a0" stroke-width="0.7"/>
<path d="M533.90 457.2v3.6" stroke="#a0a0a0" stroke-width="0.7"/>
<path d="M28.1 393.27H533.9" stroke="#b0b0b0" stroke-width="0.7" stroke-dasharray="2.5 2"/>
<path d="M166.50 351.30V386.90" stroke="#6c0000" stroke-width="1"/>
<path d="M376.50 351.30V386.40" stroke="#6c0000" stroke-width="1"/>
<path d="M376.30 386.50H448.00" stroke="#6c0000" stroke-width="1"/>
<path d="M284.10 401.50H448.00" stroke="#6c0000" stroke-width="1"/>
<path d="M172.00 351.30H370.10" stroke="#ff1a1a" stroke-width="1.8" stroke-dasharray="1.7 1.35"/>
<path d="M166.00 351.30 L172.20 348.70 L172.20 353.90Z" fill="#ff1a1a"/>
<path d="M376.10 351.30 L369.90 348.70 L369.90 353.90Z" fill="#ff1a1a"/>
<path d="M448.00 330.30V380.50" stroke="#ff1a1a" stroke-width="1.6" stroke-dasharray="3.8 1.6"/>
<path d="M448.00 386.10 L445.50 380.50 L450.50 380.50Z" fill="#ff1a1a"/>
<path d="M448.00 386.10V401.80" stroke="#e80000" stroke-width="1.1"/>
<path d="M448.00 401.80 L445.50 407.40 L450.50 407.40Z" fill="#ff1a1a"/>
<path d="M448.00 407.40V416.00" stroke="#ff1a1a" stroke-width="1.6" stroke-dasharray="3.8 1.6"/>
<path d="M163.60 384.30L168.80 389.50M163.60 389.50L168.80 384.30" stroke="#ff1a1a" stroke-width="1.3"/>
<path d="M373.70 383.80L378.90 389.00M373.70 389.00L378.90 383.80" stroke="#ff1a1a" stroke-width="1.3"/>
<path d="M281.50 398.80L286.70 404.00M281.50 404.00L286.70 398.80" stroke="#ff1a1a" stroke-width="1.3"/>
<path d="M28.6,391.8 29.3,389.9 30.1,390.6 30.8,391.8 31.6,391.2 32.4,390.6 33.1,389.9 33.9,390.6 34.6,389.9 35.4,389.3 36.2,388.6 37.0,388.6 37.7,388.0 38.5,387.8 39.2,388.6 40.0,390.6 40.8,392.5 41.5,393.7 42.3,394.4 43.0,392.5 43.8,390.6 44.6,389.9 45.1,386.7 45.6,384.2 46.1,384.8 46.6,388.0 47.1,385.5 47.6,386.1 48.1,387.4 48.6,389.3 49.4,389.9 50.2,390.6 51.0,391.2 51.7,390.6 52.5,389.9 53.2,389.3 54.0,388.0 54.8,389.3 55.3,391.2 56.0,391.8 56.5,392.5 57.1,393.1 57.6,394.4 58.1,392.5 58.6,393.7 59.1,395.0 59.6,396.3 60.1,393.7 60.6,393.1 61.4,393.7 62.1,392.8 62.9,393.4 63.7,394.4 64.4,393.7 65.2,393.1 66.0,394.1 66.7,394.4 67.5,395.0 68.0,393.4 68.8,393.1 69.5,392.8 70.3,393.4 71.1,392.8 71.8,393.4 72.6,393.1 73.3,393.7 74.1,393.4 74.9,393.1 75.6,392.8 76.4,393.4 77.2,392.8 77.9,393.4 78.7,392.5 79.5,392.8 80.2,392.1 81.0,391.8 81.5,390.6 82.0,388.6 82.5,390.6 83.0,392.5 83.5,393.1 84.3,393.4 85.1,393.7 85.8,393.4 86.6,394.1 87.3,394.4 88.1,394.6 88.9,393.7 89.6,392.5 90.4,390.6 91.2,391.8 91.7,389.9 92.2,387.4 92.7,390.6 93.2,391.2 94.0,389.9 94.7,390.6 94.8,391.2 95.5,388.0 96.3,385.5 96.8,387.4 97.3,390.6 98.1,391.2 98.8,390.6 99.6,389.3 100.4,387.4 101.1,385.5 101.9,384.2 102.7,382.3 103.4,379.7 103.9,381.6 104.4,385.5 105.0,387.4 105.5,386.7 106.2,388.6 107.0,389.9 107.8,390.6 108.5,392.5 109.3,393.7 110.0,391.8 110.5,390.6 111.0,393.7 111.6,394.4 112.1,391.2 112.8,389.9 113.3,388.6 113.8,387.4 114.4,384.8 114.9,383.6 115.6,384.2 116.4,383.6 116.9,385.5 117.4,389.3 117.7,393.1 118.2,389.3 118.7,386.1 119.2,384.8 119.7,387.4 120.2,389.9 120.7,385.5 121.2,384.8 121.8,385.5 122.3,386.7 122.8,387.4 123.3,388.6 124.0,389.9 124.8,391.2 125.6,390.6 126.1,389.3 126.6,388.6 127.3,389.9 128.1,390.6 128.9,391.8 129.6,392.5 130.4,393.4 131.2,393.4 131.9,393.1 132.7,392.8 133.5,392.1 134.2,391.2 135.0,390.6 135.8,390.6 136.5,391.2 137.3,391.8 137.8,389.3 138.3,386.7 138.8,386.1 139.3,387.4 140.1,387.4 140.8,388.0 141.6,389.9 142.4,392.5 143.1,393.1 143.9,393.4 144.7,393.7 145.4,394.1 146.2,393.4 146.9,394.4 147.5,395.6 148.0,395.0 148.5,393.7 149.0,392.8 149.5,392.5 150.0,393.1 150.5,391.8 151.3,390.6 152.0,389.3 152.8,388.0 153.6,386.7 154.3,386.1 154.8,387.4 155.3,389.3 156.1,391.2 156.9,392.5 157.6,393.7 158.4,395.0 159.2,395.6 159.9,395.0 160.7,394.4 161.5,393.7 162.2,393.1 163.0,391.8 163.0,392.5 163.8,391.2 164.6,389.9 165.3,388.6 166.1,387.4 166.8,388.6 167.6,388.0 168.4,386.7 169.1,387.4 169.9,388.0 170.7,386.7 171.4,385.5 172.2,384.8 172.9,382.9 173.4,384.8 174.2,386.7 175.0,387.4 175.8,386.1 176.5,386.7 177.3,388.6 178.0,387.4 178.6,386.1 179.3,388.0 180.1,389.9 180.8,390.6 181.6,391.8 182.4,393.4 183.1,392.5 183.9,390.6 184.7,388.6 185.4,387.4 186.2,386.1 186.9,386.7 187.7,385.5 188.5,383.6 189.2,381.9 189.8,383.6 190.3,385.5 190.8,389.3 191.3,390.6 191.8,387.4 192.3,384.8 192.8,386.7 193.3,385.5 193.8,384.8 194.3,387.4 194.8,390.6 195.3,391.8 195.9,389.9 196.4,391.2 196.9,391.8 197.6,393.4 198.4,393.7 199.2,392.5 199.9,391.2 200.7,390.6 201.5,389.3 202.2,390.6 202.7,393.1 203.2,394.4 203.8,391.2 204.3,388.6 204.8,389.9 205.3,391.8 205.8,388.6 206.3,387.4 206.8,385.5 207.3,384.8 207.8,387.4 208.3,389.3 208.8,390.6 209.3,386.7 209.9,382.9 210.4,380.4 210.9,383.6 211.4,385.5 211.9,386.7 212.4,389.3 212.9,386.1 213.4,382.3 213.9,379.7 214.4,379.1 214.9,381.0 215.5,384.2 216.0,387.4 216.5,385.5 217.0,383.6 217.5,384.8 218.0,386.7 218.5,385.5 219.0,384.2 219.5,387.4 220.0,388.0 220.6,384.8 221.1,382.3 221.3,380.4 221.8,387.4 222.3,392.5 222.8,395.6 223.3,397.6 223.9,398.2 224.4,395.6 224.9,391.8 225.4,390.6 226.2,392.5 226.9,395.0 227.7,396.9 228.4,395.6 228.9,391.8 229.5,388.6 230.2,387.4 231.0,386.7 231.0,386.7 231.8,387.4 232.6,388.6 233.3,390.6 234.1,389.9 234.8,391.2 235.6,390.6 236.4,391.8 236.9,395.0 237.4,398.2 237.9,397.6 238.4,395.6 238.9,391.8 239.4,388.0 239.9,386.1 240.4,385.5 240.9,386.7 241.4,389.3 242.0,393.1 242.5,396.9 243.0,399.5 243.5,401.4 244.0,398.2 244.5,393.1 245.0,389.3 245.5,387.4 246.0,386.7 246.6,389.3 247.1,393.1 247.6,395.6 248.1,398.2 248.6,398.8 249.1,395.6 249.6,394.4 250.1,396.9 250.6,398.2 251.1,399.5 251.6,400.7 252.2,403.3 252.7,405.2 253.4,406.5 254.2,407.1 254.9,407.4 255.7,406.8 256.5,406.5 257.2,405.8 257.8,404.6 258.3,403.3 258.8,401.4 259.3,400.1 259.8,399.5 260.3,400.7 260.8,403.3 261.3,405.2 261.8,403.9 262.3,400.7 262.8,398.2 263.4,400.7 263.9,403.9 264.4,405.8 264.9,402.0 265.4,397.6 265.9,396.3 266.4,399.5 266.9,403.3 267.4,400.7 267.9,398.2 268.4,396.3 268.9,396.9 269.5,399.5 270.0,402.0 270.5,398.2 271.0,395.6 271.5,398.2 272.0,400.7 272.5,403.3 273.0,402.0 273.5,402.6 274.0,404.6 274.6,403.9 275.1,406.5 275.6,408.4 276.1,407.7 276.6,407.1 277.1,409.0 277.6,408.4 278.1,407.1 278.6,408.1 279.1,407.7 279.6,406.5 280.4,405.8 281.2,404.6 281.9,403.3 282.7,402.6 283.5,402.0 284.0,403.9 284.5,406.5 285.0,407.7 285.5,407.1 286.3,406.5 287.0,407.7 287.8,407.1 288.6,405.8 289.3,406.5 290.1,405.2 290.8,404.6 291.6,403.9 292.4,405.2 293.1,405.8 293.9,405.2 294.7,404.6 295.4,405.8 296.2,405.2 296.9,404.6 297.7,403.9 298.5,404.6 298.5,404.6 299.3,405.8 300.0,405.2 300.8,403.9 301.6,402.0 302.3,400.1 303.1,398.8 303.6,398.2 304.4,399.5 305.1,400.1 305.9,401.4 306.6,402.0 307.4,402.6 308.2,403.3 308.9,403.9 309.7,404.6 310.5,404.8 311.2,404.3 312.0,403.9 312.8,404.6 313.5,403.3 314.0,399.5 314.6,402.6 315.1,404.6 315.6,402.0 316.1,400.1 316.6,401.4 317.1,402.0 317.6,400.1 318.1,398.8 318.6,401.4 319.1,402.6 319.6,399.5 320.1,398.2 320.6,396.9 321.2,399.5 321.7,403.9 322.2,405.2 322.7,403.3 323.2,401.4 324.0,400.7 324.7,402.0 325.5,400.7 326.3,399.5 327.0,400.1 327.8,398.8 328.6,398.2 329.3,399.5 330.1,398.2 330.8,397.6 331.6,396.9 332.4,395.6 333.1,396.3 333.9,397.6 334.4,395.0 334.9,392.5 335.4,394.4 335.9,396.9 336.4,394.4 336.9,391.2 337.5,393.7 338.0,396.3 338.5,398.2 339.0,396.3 339.5,394.4 340.0,395.0 340.5,395.6 341.0,393.7 341.5,392.5 342.0,393.7 342.6,395.0 343.1,395.6 343.6,396.3 344.1,395.6 344.6,396.3 345.1,395.0 345.6,395.6 346.1,396.9 346.6,396.3 347.1,395.6 347.6,395.0 348.1,396.3 348.7,394.4 349.2,393.1 349.7,392.5 350.2,394.4 350.7,398.2 351.2,400.7 351.7,398.8 352.2,396.9 352.7,395.6 353.5,394.4 354.0,393.4 354.8,392.8 355.5,391.8 356.3,392.5 357.1,393.7 357.8,393.1 358.6,391.8 359.4,391.2 360.1,389.3 360.6,387.4 361.1,384.8 361.6,386.1 362.1,389.3 362.7,390.6 363.2,388.6 363.7,389.3 364.2,390.6 364.7,389.3 365.2,388.6 366.0,389.9 366.7,389.3 366.8,390.6 367.5,391.2 368.3,389.9 369.1,390.6 369.8,389.3 370.6,389.9 371.4,388.6 372.1,388.0 372.9,388.6 373.6,387.4 374.4,386.7 375.2,386.1 375.9,385.5 376.7,386.1 377.4,386.7 378.2,388.0 379.0,389.9 379.8,389.3 380.5,391.8 381.3,393.1 382.0,394.4 382.8,393.7 383.6,393.1 384.3,393.7 385.1,392.5 385.9,393.4 386.6,392.8 387.4,393.1 388.1,393.7 388.9,392.5 389.7,390.6 390.2,389.3 390.7,391.8 391.2,390.6 391.7,388.0 392.2,386.1 393.0,384.8 393.8,385.5 394.3,386.7 394.8,388.0 395.3,389.3 395.8,385.5 396.3,380.4 396.8,378.4 397.3,381.6 397.8,385.5 398.3,389.3 398.8,386.7 399.4,384.2 399.9,389.3 400.4,390.6 400.9,385.5 401.4,381.0 401.9,382.9 402.4,386.7 402.9,390.6 403.4,388.6 403.9,385.5 404.4,387.4 404.9,389.3 405.5,386.1 406.0,385.5 406.5,389.3 407.0,391.8 407.5,393.7 408.0,395.6 408.5,394.4 409.0,391.8 409.5,393.1 410.0,394.4 410.6,391.8 411.1,393.1 411.6,391.2 412.1,390.6 412.8,391.8 413.6,393.1 414.4,394.4 415.1,395.6 415.6,393.7 416.1,391.8 416.9,393.4 417.7,392.8 418.4,394.4 419.2,393.7 420.0,393.1 420.5,394.4 421.0,395.6 421.5,393.7 422.0,390.6 422.5,385.5 423.0,381.6 423.5,379.1 424.0,377.8 424.6,377.6 425.1,378.4 425.6,382.3 426.1,389.3 426.6,393.1 427.1,393.7 427.6,391.8 428.1,393.1 428.6,394.4 429.4,391.8 430.1,389.3 430.7,393.1 431.2,395.6 431.7,394.4 432.2,396.9 432.9,395.0 433.5,396.9 434.2,398.2 434.7,400.7 434.8,400.7 435.3,396.9 435.8,391.8 436.3,388.0 436.8,385.5 437.3,383.6 437.8,382.3 438.3,381.0 438.8,380.4 439.4,383.6 439.9,382.3 440.4,381.6 440.9,384.2 441.4,384.8 441.9,385.5 442.4,387.4 442.9,389.9 443.4,390.6 443.9,391.8 444.4,388.6 444.9,391.2 445.4,393.1 446.0,392.5 446.5,390.6 447.0,391.8 447.5,393.7 448.0,393.1 448.5,389.3 449.0,387.4 449.5,388.6 450.0,389.3 450.6,388.6 451.1,388.0 451.6,387.4 452.1,389.3 452.6,391.2 453.1,393.7 453.6,394.4 454.1,392.5 454.6,390.6 455.1,389.9 455.9,391.2 456.6,392.5 457.4,391.8 458.2,388.0 458.9,386.7 459.7,386.1 460.5,387.4 461.2,388.6 462.0,390.6 462.8,393.7 463.3,395.6 463.8,393.7 464.3,391.2 464.8,390.6 465.6,391.2 466.3,390.6 467.1,389.3 467.9,388.6 468.6,387.4 469.4,385.5 469.9,384.8 470.4,386.7 470.9,385.5 471.4,384.2 471.9,387.4 472.4,385.5 472.9,386.7 473.5,384.8 474.0,386.1 474.5,389.3 475.0,393.1 475.5,395.6 476.0,393.7 476.5,393.1 477.0,391.2 477.5,392.5 478.0,396.3 478.6,395.0 479.1,393.1 479.6,390.6 480.1,392.5 480.6,395.6 481.1,393.1 481.6,391.8 482.1,393.7 482.6,392.5 483.1,391.2 483.6,391.8 484.4,391.2 485.2,392.5 485.9,393.1 486.7,391.2 487.5,391.8 488.2,393.7 489.0,393.4 489.8,392.5 490.5,391.8 491.0,390.6 491.5,391.8 492.0,393.4 492.6,392.5 493.3,391.2 494.1,388.6 494.8,386.7 495.4,385.5 495.9,384.8 496.4,382.9 496.9,386.7 497.4,391.2 497.9,389.3 498.4,387.4 498.9,386.1 499.4,388.6 499.9,386.7 500.4,385.5 500.9,387.4 501.5,389.3 502.0,387.4 502.7,388.0 503.2,387.4 503.7,385.5 504.2,383.6 504.7,382.3 505.2,381.0 505.7,379.1 506.2,381.0 506.7,384.8 507.2,386.1 507.8,385.5 508.3,386.7 508.8,388.6 509.3,390.6 509.8,391.2 510.3,392.5 510.8,393.7 511.3,393.4 511.8,394.4 512.3,396.3 512.8,397.6 513.4,398.8 513.9,400.1 514.4,400.7 514.9,398.8 515.4,398.2 515.9,397.6 516.4,398.2 516.9,396.3 517.4,393.7 517.9,391.2 518.4,389.3 519.0,388.0 519.5,388.6 520.0,389.9 520.5,391.2 521.0,392.5 521.5,391.8 522.0,389.9 522.5,388.0 523.0,386.7 523.5,388.6 524.0,386.7 524.5,384.8 525.1,383.6 525.6,384.8 526.1,387.4 526.6,390.6 527.1,393.7 527.6,396.9 528.1,395.6 528.6,393.1 529.1,391.2 529.6,390.6 530.1,389.9 530.7,389.3 531.2,388.6 531.7,389.3 532.2,389.9 532.7,390.6 533.2,390.3 533.8,390.6" fill="none" stroke="#1ac4c4" stroke-width="1.0" stroke-linejoin="round"/>
<path d="M28.1 457.2V329.3H533.9V457.2Z" fill="none" stroke="#a0a0a0" stroke-width="0.8"/>
<g class="tg"><text x="26.00" y="10.45" text-anchor="end" class="t">25,000</text>
<text x="26.00" y="23.00" text-anchor="end" class="t">20,000</text>
<text x="26.00" y="48.10" text-anchor="end" class="t">10,000</text>
<text x="26.00" y="73.20" text-anchor="end" class="t">0,000</text>
<text x="26.00" y="98.30" text-anchor="end" class="t">-10,000</text>
<text x="26.00" y="123.40" text-anchor="end" class="t">-20,000</text>
<text x="26.00" y="135.95" text-anchor="end" class="t">-25,000</text>
<text x="31.40" y="143.70" text-anchor="middle" class="t">0,000</text>
<text x="49.00" y="143.70" text-anchor="middle" class="t">50,000</text>
<text x="84.21" y="143.70" text-anchor="middle" class="t">150,000</text>
<text x="119.41" y="143.70" text-anchor="middle" class="t">250,000</text>
<text x="154.62" y="143.70" text-anchor="middle" class="t">350,000</text>
<text x="189.82" y="143.70" text-anchor="middle" class="t">450,000</text>
<text x="225.03" y="143.70" text-anchor="middle" class="t">550,000</text>
<text x="260.24" y="143.70" text-anchor="middle" class="t">650,000</text>
<text x="295.44" y="143.70" text-anchor="middle" class="t">750,000</text>
<text x="330.65" y="143.70" text-anchor="middle" class="t">850,000</text>
<text x="365.85" y="143.70" text-anchor="middle" class="t">950,000</text>
<text x="401.06" y="143.70" text-anchor="middle" class="t">1050,000</text>
<text x="436.26" y="143.70" text-anchor="middle" class="t">1150,000</text>
<text x="471.47" y="143.70" text-anchor="middle" class="t">1250,000</text>
<text x="530.40" y="143.70" text-anchor="middle" class="t">1417,393</text>
<text x="32.20" y="7.00" class="u" textLength="7.2" lengthAdjust="spacingAndGlyphs">µm</text>
<text x="531.70" y="132.80" class="u" textLength="7" lengthAdjust="spacingAndGlyphs">µm</text>
<text x="257.00" y="36.80" class="m" style="font-size:8.2px" textLength="62.80" lengthAdjust="spacingAndGlyphs">[1] 468,969µm</text>
<text x="0" y="0" transform="translate(458.90 9.60) rotate(90)" class="m" style="font-size:8.2px" textLength="47.20" lengthAdjust="spacingAndGlyphs">[2] 9,057µm</text>
<text x="274.4" y="160.7" text-anchor="middle" class="cap" textLength="13.9" lengthAdjust="spacingAndGlyphs">(<tspan font-weight="bold">a</tspan>)</text>
<text x="23.40" y="172.85" text-anchor="end" class="t">25,000</text>
<text x="23.40" y="185.28" text-anchor="end" class="t">20,000</text>
<text x="23.40" y="210.14" text-anchor="end" class="t">10,000</text>
<text x="23.40" y="235.00" text-anchor="end" class="t">0,000</text>
<text x="23.40" y="259.86" text-anchor="end" class="t">-10,000</text>
<text x="23.40" y="284.72" text-anchor="end" class="t">-20,000</text>
<text x="23.40" y="297.15" text-anchor="end" class="t">-25,000</text>
<text x="28.80" y="305.70" text-anchor="middle" class="t">0,000</text>
<text x="46.62" y="305.70" text-anchor="middle" class="t">50,000</text>
<text x="82.25" y="305.70" text-anchor="middle" class="t">150,000</text>
<text x="117.89" y="305.70" text-anchor="middle" class="t">250,000</text>
<text x="153.52" y="305.70" text-anchor="middle" class="t">350,000</text>
<text x="189.16" y="305.70" text-anchor="middle" class="t">450,000</text>
<text x="224.79" y="305.70" text-anchor="middle" class="t">550,000</text>
<text x="260.43" y="305.70" text-anchor="middle" class="t">650,000</text>
<text x="296.07" y="305.70" text-anchor="middle" class="t">750,000</text>
<text x="331.70" y="305.70" text-anchor="middle" class="t">850,000</text>
<text x="367.34" y="305.70" text-anchor="middle" class="t">950,000</text>
<text x="402.97" y="305.70" text-anchor="middle" class="t">1050,000</text>
<text x="438.61" y="305.70" text-anchor="middle" class="t">1150,000</text>
<text x="474.24" y="305.70" text-anchor="middle" class="t">1250,000</text>
<text x="533.40" y="305.70" text-anchor="middle" class="t">1416,010</text>
<text x="29.60" y="169.50" class="u" textLength="7.2" lengthAdjust="spacingAndGlyphs">µm</text>
<text x="534.70" y="294.80" class="u" textLength="7" lengthAdjust="spacingAndGlyphs">µm</text>
<text x="257.90" y="191.40" class="m" style="font-size:8.2px" textLength="62.50" lengthAdjust="spacingAndGlyphs">[1] 554,512µm</text>
<text x="0" y="0" transform="translate(452.80 175.00) rotate(90)" class="m" style="font-size:8.2px" textLength="46.70" lengthAdjust="spacingAndGlyphs">[2] 6,902µm</text>
<text x="274.4" y="322.1" text-anchor="middle" class="cap" textLength="15.3" lengthAdjust="spacingAndGlyphs">(<tspan font-weight="bold">b</tspan>)</text>
<text x="22.70" y="331.20" text-anchor="end" class="t">25,000</text>
<text x="22.70" y="343.96" text-anchor="end" class="t">20,000</text>
<text x="22.70" y="369.50" text-anchor="end" class="t">10,000</text>
<text x="22.70" y="395.02" text-anchor="end" class="t">0,000</text>
<text x="22.70" y="420.56" text-anchor="end" class="t">-10,000</text>
<text x="22.70" y="446.09" text-anchor="end" class="t">-20,000</text>
<text x="22.70" y="458.85" text-anchor="end" class="t">-25,000</text>
<text x="28.10" y="466.50" text-anchor="middle" class="t">0,000</text>
<text x="45.98" y="466.50" text-anchor="middle" class="t">50,000</text>
<text x="81.73" y="466.50" text-anchor="middle" class="t">150,000</text>
<text x="117.49" y="466.50" text-anchor="middle" class="t">250,000</text>
<text x="153.24" y="466.50" text-anchor="middle" class="t">350,000</text>
<text x="189.00" y="466.50" text-anchor="middle" class="t">450,000</text>
<text x="224.75" y="466.50" text-anchor="middle" class="t">550,000</text>
<text x="260.51" y="466.50" text-anchor="middle" class="t">650,000</text>
<text x="296.26" y="466.50" text-anchor="middle" class="t">750,000</text>
<text x="332.02" y="466.50" text-anchor="middle" class="t">850,000</text>
<text x="367.77" y="466.50" text-anchor="middle" class="t">950,000</text>
<text x="403.53" y="466.50" text-anchor="middle" class="t">1050,000</text>
<text x="439.28" y="466.50" text-anchor="middle" class="t">1150,000</text>
<text x="475.04" y="466.50" text-anchor="middle" class="t">1250,000</text>
<text x="533.90" y="466.50" text-anchor="middle" class="t">1414,627</text>
<text x="28.90" y="327.80" class="u" textLength="7.2" lengthAdjust="spacingAndGlyphs">µm</text>
<text x="535.20" y="455.60" class="u" textLength="7" lengthAdjust="spacingAndGlyphs">µm</text>
<text x="288.50" y="348.10" class="m" style="font-size:8.2px" textLength="62.70" lengthAdjust="spacingAndGlyphs">[1] 588,740µm</text>
<text x="0" y="0" transform="translate(451.60 333.20) rotate(90)" class="m" style="font-size:8.2px" textLength="47.20" lengthAdjust="spacingAndGlyphs">[2] 5,935µm</text>
<text x="274.4" y="483.2" text-anchor="middle" class="cap" textLength="13.0" lengthAdjust="spacingAndGlyphs">(<tspan font-weight="bold">c</tspan>)</text></g>
</svg></body></html>
